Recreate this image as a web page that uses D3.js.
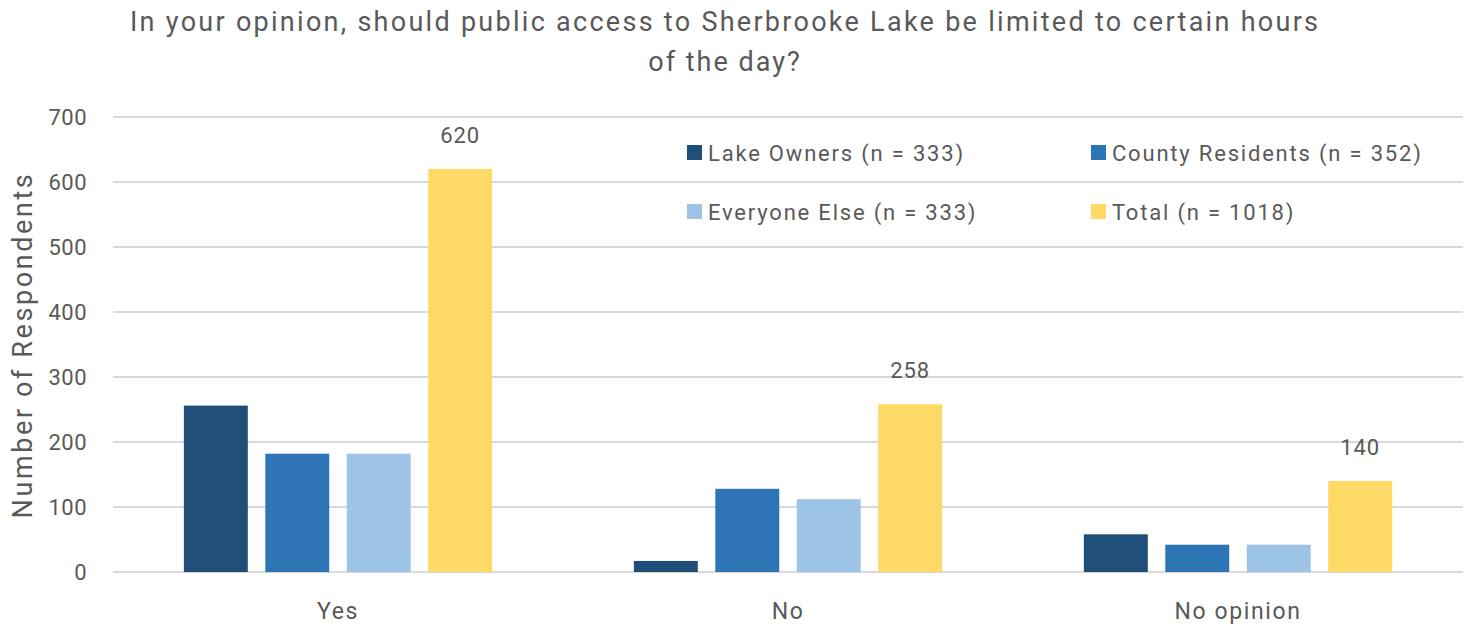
<!DOCTYPE html>
<html>
<head>
<meta charset="utf-8">
<script src="https://cdn.jsdelivr.net/npm/d3@7"></script>
<style>
  body { margin: 0; background: #fff; }
  text { font-family: Roboto, "DejaVu Sans", sans-serif; fill: #595959; }
</style>
</head>
<body>
<div id="chart"></div>
<script>
const categories = ["Yes", "No", "No opinion"];
const seriesNames = ["Lake Owners (n = 333)", "County Residents (n = 352)", "Everyone Else (n = 333)", "Total (n = 1018)"];
const lakeOwners = [256, 17, 58];
const countyResidents = [182, 128, 42];
const everyoneElse = [182, 112, 42];
const total = [620, 258, 140];
const yTicks = [0, 100, 200, 300, 400, 500, 600, 700];

const colors = ["#1f4e79", "#2e75b6", "#9dc3e6", "#ffd966"];
const series = [lakeOwners, countyResidents, everyoneElse, total];

const width = 1467, height = 628;
const margin = {top: 117, right: 4, bottom: 56, left: 113};

const svg = d3.select('#chart').append('svg')
    .attr('width', width)
    .attr('height', height);

const x0 = d3.scaleBand().domain(categories)
    .range([margin.left, width - margin.right]).paddingInner(0).paddingOuter(0);
const x1 = d3.scaleBand().domain(d3.range(series.length))
    .range([0, x0.bandwidth()]).paddingInner(0.215).paddingOuter(0.87);
const y = d3.scaleLinear().domain([0, 700]).range([height - margin.bottom, margin.top]);

// gridlines
svg.append('g')
    .selectAll('line')
    .data(yTicks).enter().append('line')
    .attr('x1', margin.left)
    .attr('x2', width - margin.right)
    .attr('y1', d => y(d))
    .attr('y2', d => y(d))
    .style('stroke', '#d9d9d9')
    .style('stroke-width', 2);

// y tick labels
svg.append('g')
    .selectAll('text')
    .data(yTicks).enter().append('text')
    .attr('x', 87)
    .attr('y', d => y(d))
    .attr('dy', '0.35em')
    .attr('text-anchor', 'end')
    .style('font-size', '22px')
    .style('letter-spacing', '0.5px')
    .text(d => d);

// bars
const groups = svg.append('g')
    .selectAll('g')
    .data(categories).enter().append('g')
    .attr('transform', d => `translate(${x0(d)},0)`);

groups.selectAll('rect')
    .data((c, ci) => series.map((s, si) => ({si: si, v: s[ci]})))
    .enter().append('rect')
    .attr('x', d => x1(d.si))
    .attr('width', x1.bandwidth())
    .attr('y', d => y(d.v))
    .attr('height', d => y(0) - y(d.v))
    .style('fill', d => colors[d.si]);

// data labels on total only
groups.append('text')
    .attr('x', x1(3) + x1.bandwidth() / 2)
    .attr('y', (c, ci) => y(total[ci]) - 26)
    .attr('text-anchor', 'middle')
    .style('font-size', '22px')
    .style('letter-spacing', '1px')
    .text((c, ci) => total[ci]);

// category labels
svg.append('g')
    .selectAll('text')
    .data(categories).enter().append('text')
    .attr('x', d => x0(d) + x0.bandwidth() / 2)
    .attr('y', 619)
    .attr('text-anchor', 'middle')
    .style('font-size', '23px')
    .style('letter-spacing', '1.6px')
    .text(d => d);

// y axis title
svg.append('text')
    .attr('transform', 'translate(32, 345) rotate(-90)')
    .attr('text-anchor', 'middle')
    .style('font-size', '27px')
    .style('letter-spacing', '2.6px')
    .text('Number of Respondents');

// title
const title = svg.append('text')
    .attr('text-anchor', 'middle')
    .style('font-size', '27px');
title.append('tspan').attr('x', 724).attr('y', 31)
    .attr('textLength', 1188).attr('lengthAdjust', 'spacing')
    .text('In your opinion, should public access to Sherbrooke  Lake be limited to certain hours');
title.append('tspan').attr('x', 725).attr('y', 71)
    .style('letter-spacing', '2px')
    .text('of the day?');

// legend
const legendPos = [[687, 153], [1091, 153], [687, 212], [1091, 212]];
const legend = svg.append('g')
    .selectAll('g')
    .data(seriesNames).enter().append('g')
    .attr('transform', (d, i) => `translate(${legendPos[i][0]},${legendPos[i][1]})`);
legend.append('rect')
    .attr('x', 0)
    .attr('y', -8)
    .attr('width', 15)
    .attr('height', 15)
    .style('fill', (d, i) => colors[i]);
legend.append('text')
    .attr('x', 21)
    .attr('y', 0)
    .attr('dy', '0.35em')
    .style('font-size', '22px')
    .style('letter-spacing', '1.8px')
    .text(d => d);
</script>
</body>
</html>
